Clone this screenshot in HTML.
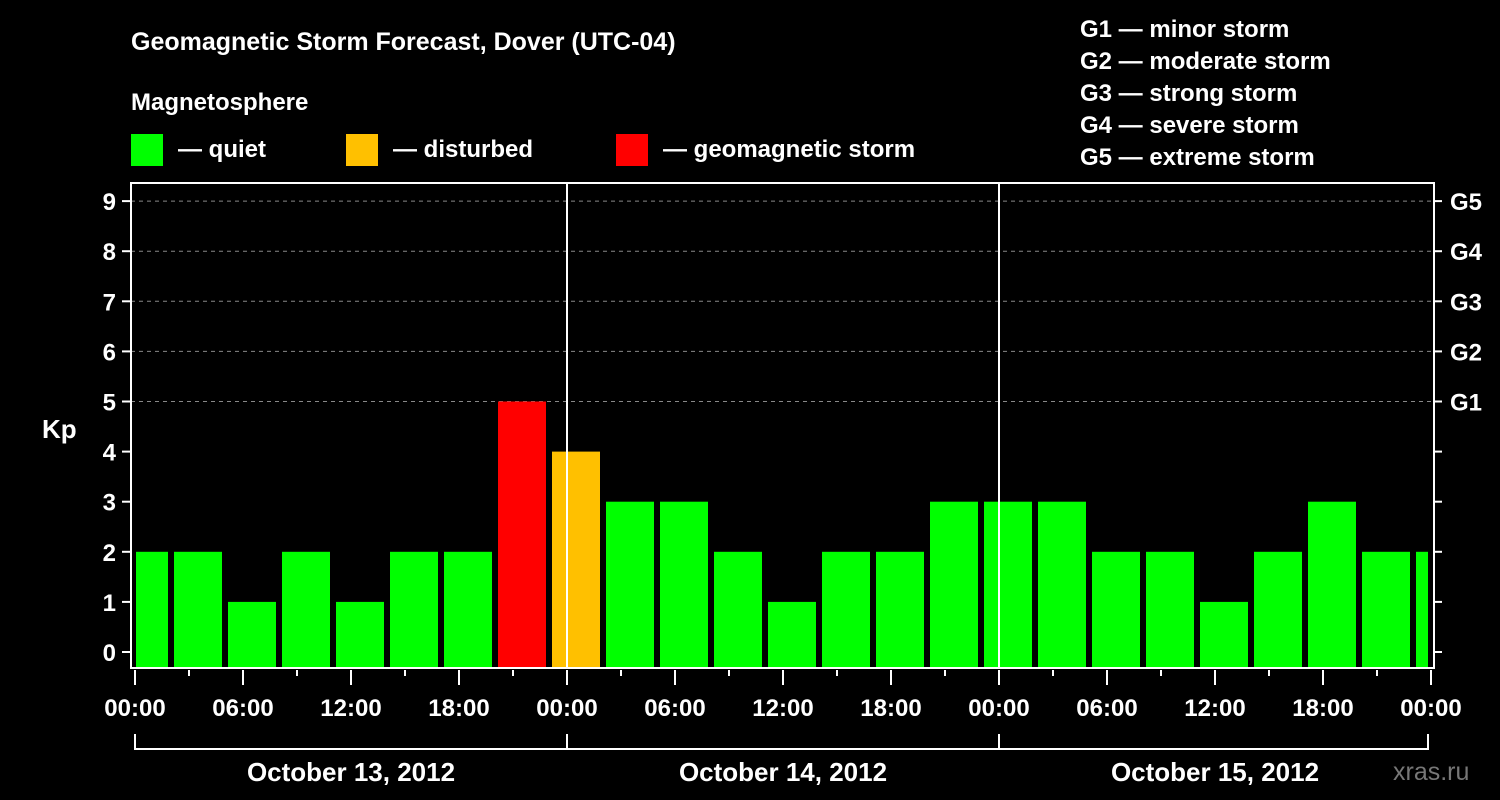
<!DOCTYPE html>
<html><head><meta charset="utf-8"><style>
body{margin:0;background:#000;}
svg{display:block;font-family:"Liberation Sans",sans-serif;font-weight:bold;}
</style></head><body>
<svg id="c" width="1500" height="800" viewBox="0 0 1500 800">
<rect width="1500" height="800" fill="#000"/>
<text x="131" y="50" font-size="25" fill="#fff">Geomagnetic Storm Forecast, Dover (UTC-04)</text>
<text x="131" y="110" font-size="24" fill="#fff">Magnetosphere</text>
<g><rect x="131" y="134" width="32" height="32" fill="#00ff00"/><text x="178" y="157" font-size="24" fill="#fff">— quiet</text></g>
<g><rect x="346" y="134" width="32" height="32" fill="#ffc000"/><text x="393" y="157" font-size="24" fill="#fff">— disturbed</text></g>
<g><rect x="616" y="134" width="32" height="32" fill="#ff0000"/><text x="663" y="157" font-size="24" fill="#fff">— geomagnetic storm</text></g>
<g font-size="24" fill="#fff">
<text x="1080" y="37">G1 — minor storm</text>
<text x="1080" y="69">G2 — moderate storm</text>
<text x="1080" y="101">G3 — strong storm</text>
<text x="1080" y="133">G4 — severe storm</text>
<text x="1080" y="165">G5 — extreme storm</text>
</g>
<text x="42" y="438" font-size="26" fill="#fff">Kp</text>
<text x="1393" y="780" font-size="25" fill="#777" font-weight="normal">xras.ru</text>
<defs><clipPath id="pc"><rect x="136" y="183" width="1292" height="485"/></clipPath></defs>
<g id="grid"></g>
<g id="bars" clip-path="url(#pc)"></g>
<g id="axes"></g>
</svg>
<script>
const kpValues=[2,2,1,2,1,2,2,5,4,3,3,2,1,2,2,3,3,3,2,2,1,2,3,2,2];
const yTicks=[0,1,2,3,4,5,6,7,8,9];
const gLabels=["G1","G2","G3","G4","G5"];
const xTickLabels=["00:00","06:00","12:00","18:00","00:00","06:00","12:00","18:00","00:00","06:00","12:00","18:00","00:00"];
const dayLabels=["October 13, 2012","October 14, 2012","October 15, 2012"];
const NS="http://www.w3.org/2000/svg";
const X0=135,PXH=18,Y0=652,PXK=50.1,BOT=668,TOP=183,L=131,R=1434;
const xS=h=>X0+h*PXH, yS=v=>Y0-v*PXK;
function mk(tag,attrs,parent){const e=document.createElementNS(NS,tag);for(const k in attrs)e.setAttribute(k,attrs[k]);parent.appendChild(e);return e;}
const grid=document.getElementById('grid'),bars=document.getElementById('bars'),axes=document.getElementById('axes');
// gridlines for G levels
for(let i=0;i<gLabels.length;i++){const v=5+i;
 const l=mk('line',{x1:L,x2:R,y1:yS(v),y2:yS(v),stroke:'#888','stroke-dasharray':'4 4','stroke-width':1},grid);
 
 }
// bars
kpValues.forEach((v,k)=>{const c=xS(3*k+0.5);
 const col=v>=5?'#ff0000':(v>=4?'#ffc000':'#00ff00');
 const r=mk('rect',{x:c-24,y:yS(v),width:48,height:BOT-yS(v),fill:col},bars);
 
 });
// day separators
for(let d=1;d<3;d++){const l=mk('line',{x1:xS(24*d),x2:xS(24*d),y1:TOP,y2:BOT,stroke:'#fff','stroke-width':2},axes);
 
 }
// frame
const f=mk('path',{d:`M${L} ${TOP}V${BOT}H${R}V${TOP}Z`,fill:'none',stroke:'#fff','stroke-width':2},axes);


// y ticks
yTicks.forEach(v=>{const y=yS(v);
 mk('line',{x1:122,x2:L,y1:y,y2:y,stroke:'#fff','stroke-width':2},axes);
 mk('line',{x1:R,x2:1442,y1:y,y2:y,stroke:'#fff','stroke-width':2},axes);
 const t=mk('text',{x:116,y:y+9,'font-size':24,fill:'#fff','text-anchor':'end'},axes);t.textContent=v;
 
 });
gLabels.forEach((g,i)=>{const t=mk('text',{x:1450,y:yS(5+i)+9,'font-size':24,fill:'#fff'},axes);t.textContent=g;
 
 });
// x ticks
for(let h=0;h<=72;h+=3){const x=xS(h);mk('line',{x1:x,x2:x,y1:670,y2:h%6==0?685:676,stroke:'#fff','stroke-width':2},axes);}
xTickLabels.forEach((s,i)=>{const t=mk('text',{x:xS(6*i),y:716,'font-size':24,fill:'#fff','text-anchor':'middle'},axes);t.textContent=s;
 
 });
// day bracket
const br=mk('path',{d:`M${xS(0)} 734V749H${xS(72)-3}V734M${xS(24)} 734V749M${xS(48)} 734V749`,fill:'none',stroke:'#fff','stroke-width':2},axes);


dayLabels.forEach((s,i)=>{const t=mk('text',{x:xS(24*i+12),y:781,'font-size':26,fill:'#fff','text-anchor':'middle'},axes);t.textContent=s;
 
 });
</script>
</body></html>
